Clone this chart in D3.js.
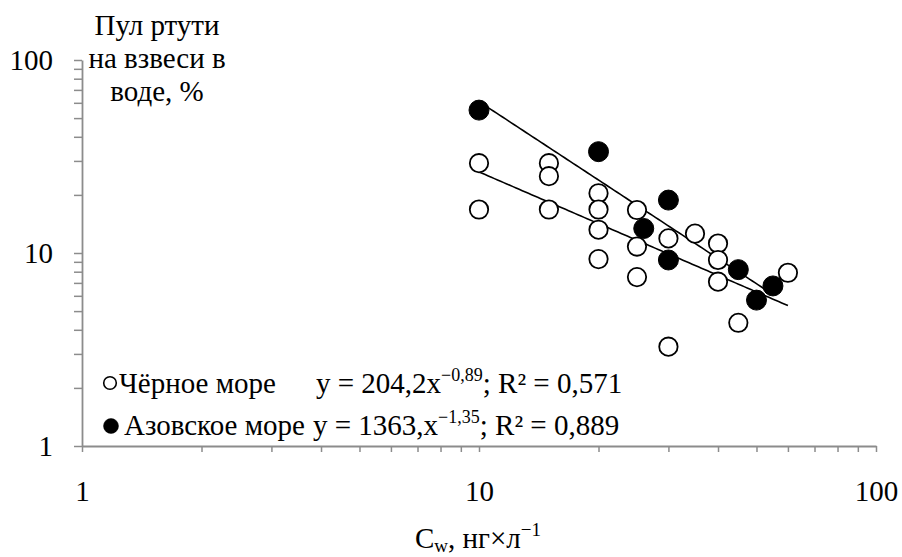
<!DOCTYPE html>
<html><head><meta charset="utf-8">
<script src="https://cdn.jsdelivr.net/npm/d3@7"></script>
<style>
html,body{margin:0;padding:0;background:#fff;}
svg, svg text, svg tspan{font-family:"Liberation Serif","Times New Roman","DejaVu Serif",serif !important;}
</style></head>
<body>
<svg id="chart" width="902" height="557"></svg>
<script>
// ---- data ----
const blackSeaX = [10,10,15,15,15,20,20,20,20,25,25,25,30,30,35,40,40,40,45,60];
const blackSeaY = [29.2,16.8,29.2,25,16.8,20.4,16.8,13.2,9.3,16.7,10.8,7.5,11.9,3.27,12.6,11.2,9.2,7.1,4.35,7.9];
const azovX = [10,20,26,30,30,45,50,55];
const azovY = [55,33.5,13.4,18.8,9.2,8.2,5.7,6.75];
const fitBlack = [204.2,-0.89];
const fitAzov = [1363,-1.35];
const xTickLabels = [1,10,100];
const yTickLabels = [1,10,100];
const seriesNames = ["Чёрное море","Азовское море"];
const eqBlack = ["y = 204,2x","−0,89","; R² = 0,571"];
const eqAzov = ["y = 1363,x","−1,35","; R² = 0,889"];
const yTitle = ["Пул ртути","на взвеси в","воде, %"];

const FONT = "Liberation Serif";
const svg = d3.select("#chart");
const x = d3.scaleLog().domain([1,100]).range([82,876]);
const y = d3.scaleLog().domain([1,100]).range([446,60]);
const axisColor = "#8c8c8c";
const FS = 29;

const allTicks = [];
for (const d of [1,10]) for (let k=1;k<10;k++) allTicks.push(d*k);
allTicks.push(100);

const xa = svg.append("g").attr("transform","translate(0,446)")
  .call(d3.axisBottom(x).tickValues(allTicks).tickSize(6).tickSizeOuter(0).tickPadding(28)
    .tickFormat(d => xTickLabels.includes(d) ? String(d) : ""));
const ya = svg.append("g").attr("transform","translate(82,0)")
  .call(d3.axisLeft(y).tickValues(allTicks).tickSize(8).tickSizeOuter(0).tickPadding(21)
    .tickFormat(d => yTickLabels.includes(d) ? String(d) : ""));
for (const g of [xa,ya]) {
  g.attr("font-family",FONT).attr("font-size",FS);
  g.select(".domain").attr("stroke",axisColor).attr("stroke-width",1.8);
  g.selectAll(".tick line").attr("stroke",axisColor).attr("stroke-width",1.5);
  g.selectAll(".tick text").attr("font-size",FS).attr("fill","#000");
}

// trend lines
function trend(fit, xs) {
  const lo = d3.min(xs), hi = d3.max(xs);
  const pts = d3.range(0,101).map(i => {
    const xv = lo*Math.pow(hi/lo, i/100);
    return [x(xv), y(fit[0]*Math.pow(xv, fit[1]))];
  });
  return d3.line()(pts);
}
svg.append("path").attr("d",trend(fitBlack,blackSeaX)).attr("fill","none").attr("stroke","#000").attr("stroke-width",1.6);
svg.append("path").attr("d",trend(fitAzov,azovX)).attr("fill","none").attr("stroke","#000").attr("stroke-width",1.6);

// points
svg.append("g").selectAll("circle").data(blackSeaX.map((v,i)=>[v,blackSeaY[i]])).join("circle")
  .attr("cx",d=>x(d[0])).attr("cy",d=>y(d[1])).attr("r",9.2)
  .attr("fill","#fff").attr("stroke","#000").attr("stroke-width",1.8);
svg.append("g").selectAll("circle").data(azovX.map((v,i)=>[v,azovY[i]])).join("circle")
  .attr("cx",d=>x(d[0])).attr("cy",d=>y(d[1])).attr("r",10)
  .attr("fill","#000").attr("stroke","#000").attr("stroke-width",1);

// y title
svg.append("text").attr("text-anchor","middle").attr("font-size",FS)
  .selectAll("tspan").data(yTitle).join("tspan")
  .attr("x",157).attr("y",(d,i)=>35+i*33).text(d=>d);

// x title
const xt = svg.append("text").attr("x",415).attr("y",548).attr("font-size",FS);
xt.append("tspan").text("C");
xt.append("tspan").attr("font-size",19).attr("dy",4).text("w");
xt.append("tspan").attr("dy",-4).text(", нг×л");
xt.append("tspan").attr("font-size",19).attr("dy",-12).text("−1");

// legend
const legendRows = [
  {name:seriesNames[0], eq:eqBlack, open:true, cx:110, cy:383, r:6.3, tx:119, ex:316, base:393},
  {name:seriesNames[1], eq:eqAzov, open:false, cx:111, cy:426, r:7.5, tx:124, ex:313, base:435}
];
legendRows.forEach(r => {
  svg.append("circle").attr("cx",r.cx).attr("cy",r.cy).attr("r",r.r)
    .attr("fill", r.open ? "#fff" : "#000").attr("stroke","#000").attr("stroke-width",r.open?1.6:0.5);
  svg.append("text").attr("x",r.tx).attr("y",r.base).attr("font-size",FS).text(r.name);
  const t = svg.append("text").attr("x",r.ex).attr("y",r.base).attr("font-size",FS);
  t.append("tspan").text(r.eq[0]);
  t.append("tspan").attr("font-size",18).attr("dy",-12).text(r.eq[1]);
  t.append("tspan").attr("dy",12).text(r.eq[2]);
});
</script>
</body></html>
